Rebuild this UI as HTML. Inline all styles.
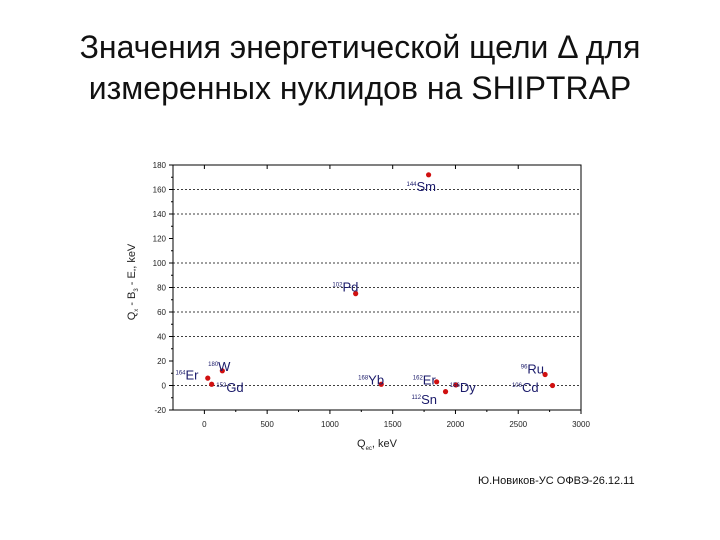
<!DOCTYPE html>
<html><head><meta charset="utf-8"><style>
body{margin:0;width:720px;height:540px;background:#fff;font-family:"Liberation Sans",sans-serif;overflow:hidden;position:relative}
.title{position:absolute;left:0;width:720px;top:27px;text-align:center;font-size:32px;line-height:41px;color:#111}
.foot{position:absolute;left:478px;top:475px;font-size:11px;color:#111}
</style></head><body>
<div class="title">Значения энергетической щели Δ для<br>измеренных нуклидов на SHIPTRAP</div>
<svg id="chart" width="720" height="540" style="position:absolute;left:0;top:0" font-family="Liberation Sans, sans-serif"></svg>
<div class="foot">Ю.Новиков-УС ОФВЭ-26.12.11</div>
<script>
const labels=["Er","Gd","W","Pd","Sm","Yb","Er","Sn","Dy","Ru","Cd"];
const masses=["164","152","180","102","144","168","162","112","156","96","106"];
const xs=[27,58,143,1205,1786,1409,1850,1921,2003,2714,2773];
const ys=[6,1,12,75,172,1,3,-5,0.5,9,0];
const xTicks=[0,500,1000,1500,2000,2500,3000];
const yTicks=[-20,0,20,40,60,80,100,120,140,160,180];
const gridY=[0,40,60,80,100,140,160];
const lx=[-230,95,30,1020,1610,1225,1660,1650,1955,2520,2450];
const ly=[8,-2,15,80,162,4,4,-12,-2,13,-2];
const NS="http://www.w3.org/2000/svg";
const svg=document.getElementById('chart');
const L=173,R=581,T=165,B=410;
const X=v=>L+(v+250)/3250*(R-L);
const Y=v=>B-(v+20)/200*(B-T);
function mk(t,a,p){const e=document.createElementNS(NS,t);for(const k in a)e.setAttribute(k,a[k]);(p||svg).appendChild(e);return e;}
gridY.forEach(v=>{const g=mk('line',{x1:L,x2:R,y1:Y(v),y2:Y(v),stroke:'#000','stroke-width':0.8,'stroke-dasharray':'2,2'});

});
const fr=mk('rect',{x:L,y:T,width:R-L,height:B-T,fill:'none',stroke:'#000','stroke-width':1});


xTicks.forEach(v=>{mk('line',{x1:X(v),x2:X(v),y1:B,y2:B+4,stroke:'#000'});mk('line',{x1:X(v),x2:X(v),y1:T,y2:T+4,stroke:'#000'});
const t=mk('text',{x:X(v),y:B+17,'font-size':8,'text-anchor':'middle',fill:'#222'});t.textContent=v;


const m=X(v+250);if(v<3000){mk('line',{x1:m,x2:m,y1:B,y2:B+2,stroke:'#000'});}});
yTicks.forEach(v=>{mk('line',{x1:L-4,x2:L,y1:Y(v),y2:Y(v),stroke:'#000'});
const t=mk('text',{x:L-7,y:Y(v)+3,'font-size':8,'text-anchor':'end',fill:'#222'});t.textContent=v;


if(v<180)mk('line',{x1:L-2,x2:L,y1:Y(v+10),y2:Y(v+10),stroke:'#000'});});
const xt=mk('text',{x:377,y:447,'font-size':11,'text-anchor':'middle',fill:'#222'});xt.innerHTML='Q<tspan font-size="6" dy="3">ec</tspan><tspan dy="-3">, keV</tspan>';


const yt=mk('text',{x:0,y:0,'font-size':11,'text-anchor':'middle',fill:'#222',transform:'translate(135,282) rotate(-90)'});yt.innerHTML='Q<tspan font-size="6" dy="3">x</tspan><tspan dy="-3"> - B</tspan><tspan font-size="6" dy="3">3</tspan><tspan dy="-3"> - E</tspan><tspan font-size="6" dy="3">*</tspan><tspan dy="-3">, keV</tspan>';


xs.forEach((x,i)=>{const c=mk('circle',{cx:X(x),cy:Y(ys[i]),r:2.6,fill:'#d01010'});


const t=mk('text',{x:X(lx[i]),y:Y(ly[i])+4,'font-size':13,fill:'#1a1a6a'});
t.innerHTML='<tspan font-size="6" dy="-5">'+masses[i]+'</tspan><tspan dy="5">'+labels[i]+'</tspan>';

});
</script>
</body></html>
